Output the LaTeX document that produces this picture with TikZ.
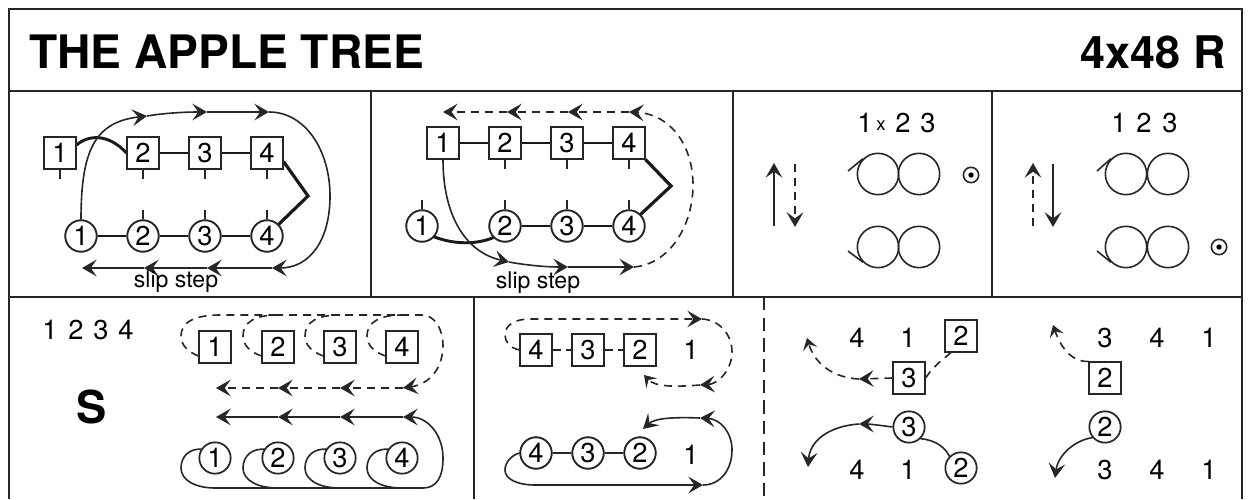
\documentclass[tikz,border=0pt]{standalone}
\usepackage{fontspec}
\setmainfont{TeX Gyre Heros}
\usetikzlibrary{arrows.meta}
\newcommand{\pxfont}[1]{\fontsize{#1}{#1}\selectfont}
\tikzset{
  frameline/.style={line width=1.4pt,draw=black!85},
  sq/.style={draw=black!85,line width=1.3pt,fill=white,rectangle,minimum size=23.5pt,inner sep=0pt,font=\pxfont{20.5}},
  circ/.style={draw=black!85,line width=1.3pt,fill=white,circle,minimum size=23.5pt,inner sep=0pt,font=\pxfont{20.5}},
  num/.style={inner sep=0pt,font=\pxfont{20.5}},
  lbl/.style={inner sep=0pt,anchor=base,font=\pxfont{17.3}},
  ring/.style={draw=black!85,line width=1.2pt,circle,minimum size=31pt,inner sep=0pt},
  thinl/.style={line width=1.2pt,draw=black!85},
  thickl/.style={line width=2.2pt,draw=black!90},
  dashl/.style={line width=1.2pt,draw=black!85,dash pattern=on 6pt off 4.5pt},
  tip/.style={-{Stealth[length=11pt,width=12.5pt,inset=4.5pt]}},
  smalltip/.style={-{Stealth[length=8.5pt,width=11pt,inset=3.5pt]}},
  dotring/.style={draw=black!85,line width=1.2pt,circle,minimum size=11.5pt,inner sep=0pt},
  dotc/.style={fill=black,circle,minimum size=4pt,inner sep=0pt},
}
\begin{document}
\begin{tikzpicture}[x=0.75pt,y=-0.75pt]
\useasboundingbox (0,0) rectangle (1251,499);
% frame
\coordinate (TL) at (9,9); \coordinate (TR) at (1242,9);
\coordinate (BL) at (9,499); \coordinate (BR) at (1242,499);
\coordinate (H1a) at (9,91); \coordinate (H1b) at (1242,91);
\coordinate (H2a) at (9,297); \coordinate (H2b) at (1242,297);
\draw[frameline] (BL) -- (TL) -- (TR) -- (BR);
\draw[frameline] (H1a) -- (H1b);
\draw[frameline] (H2a) -- (H2b);
\foreach \xx in {371,733,992} {\draw[frameline] (\xx,91) -- (\xx,297);}
\draw[frameline] (474,297) -- (474,499);
\draw[line width=1.2pt,draw=black!85,dash pattern=on 10pt off 5.5pt] (764,297) -- (764,499);
% title
\node[inner sep=0pt,anchor=base west,font=\bfseries\pxfont{34.6}] (title) at (29,69) {THE APPLE TREE};
\node[inner sep=0pt,anchor=base east,font=\bfseries\pxfont{33.7}] (form) at (1226,69) {4x48 R};

% ---------- panel 1
\foreach \n/\xx in {1/60,2/143,3/205,4/267} {
  \node[sq] (as\n) at (\xx,153) {\n};
  \draw[thinl] (as\n.south) -- ++(0,9);
}
\foreach \n/\xx in {1/81,2/143,3/205,4/267} {
  \node[circ] (ac\n) at (\xx,236) {\n};
}
\foreach \n in {2,3,4} {\draw[thinl] (ac\n.north) -- ++(0,-9);}
\draw[thickl] (as1.east) ++(0,-8) .. controls (88,135) and (108,133) .. (as2.west);
\draw[thickl] (as2) -- (as3) (as3) -- (as4) (ac1) -- (ac2) (ac2) -- (ac3) (ac3) -- (ac4);
\coordinate (acorner) at (308,196);
\draw[thickl,line width=2.4pt] (as4.south east) ++(0,-8) -- (acorner) -- (ac4.north east);
\coordinate (at1) at (147,116); \coordinate (at2) at (207,112); \coordinate (at3) at (269,112);
\coordinate (at4) at (272,268); \coordinate (at5) at (207,268); \coordinate (at6) at (144,268); \coordinate (at7) at (82,268);
\draw[thinl,tip] (ac1.north) .. controls (81,150) and (95,122) .. (at1);
\draw[thinl,tip] (at1) .. controls (165,113) and (185,112) .. (at2);
\draw[thinl,tip] (at2) -- (at3);
\draw[thinl,tip] (at3) .. controls (305,112) and (330,150) .. (330,196) .. controls (330,240) and (310,268) .. (at4);
\draw[thinl,tip] (at4) -- (at5);
\draw[thinl,tip] (at5) -- (at6);
\draw[thinl,tip] (at6) -- (at7);
\node[lbl] (aslip) at (176,287) {slip step};
\foreach \n/\xx in {1/60,2/143,3/205,4/267} {\node[sq] at (as\n) {\n};}
\foreach \n/\xx in {1/81,2/143,3/205,4/267} {\node[circ] at (ac\n) {\n};}

% ---------- panel 2
\foreach \n/\xx in {1/443,2/505,3/567,4/629} {\node[sq] (bs\n) at (\xx,143) {\n};}
\foreach \n in {2,3,4} {\draw[thinl] (bs\n.south) -- ++(0,9);}
\foreach \n/\xx in {1/422,2/505,3/567,4/629} {
  \node[circ] (bc\n) at (\xx,226) {\n};
  \draw[thinl] (bc\n.north) -- ++(0,-9);
}
\draw[thickl] (bs1) -- (bs2) (bs2) -- (bs3) (bs3) -- (bs4) (bc2) -- (bc3) (bc3) -- (bc4);
\draw[thickl] (bc1.south east) ++(0,-1) .. controls (450,243) and (472,246) .. (bc2.south west);
\coordinate (bcorner) at (671,186);
\draw[thickl,line width=2.4pt] (bs4.south east) -- (bcorner) -- (bc4.north east);
\coordinate (bt1) at (509,262); \coordinate (bt2) at (568,267); \coordinate (bt3) at (634,267);
\coordinate (bt4) at (629,112); \coordinate (bt5) at (568,112); \coordinate (bt6) at (507,112); \coordinate (bt7) at (443,112);
\draw[thinl,tip] (bs1.south) .. controls (443,215) and (465,252) .. (bt1);
\draw[thinl,tip] (bt1) .. controls (525,265) and (545,267) .. (bt2);
\draw[thinl,tip] (bt2) -- (bt3);
\draw[dashl,tip] (bt3) .. controls (670,264) and (693,225) .. (693,185) .. controls (693,145) and (670,114) .. (bt4);
\draw[dashl,tip] (bt4) -- (bt5);
\draw[dashl,tip] (bt5) -- (bt6);
\draw[dashl,tip] (bt6) -- (bt7);
\node[lbl] (bslip) at (538,288) {slip step};
\foreach \n/\xx in {1/443,2/505,3/567,4/629} {\node[sq] at (bs\n) {\n};}
\foreach \n/\xx in {1/422,2/505,3/567,4/629} {\node[circ] at (bc\n) {\n};}

% ---------- panel 3
\node[num] (c1) at (865,123) {1};
\node[num,font=\pxfont{14}] (cx) at (881,126) {x};
\node[num] (c2) at (903,123) {2};
\node[num] (c3) at (928,123) {3};
\node[ring] (cr1) at (878,174) {}; \node[ring] (cr2) at (919,174) {};
\node[ring] (cr3) at (878,247) {}; \node[ring] (cr4) at (919,247) {};
\coordinate (ct1) at (848,171); \coordinate (ct2) at (848,251);
\draw[thinl] (ct1) -- (cr1.north west);
\draw[thinl] (ct2) -- (cr3.south west);
\coordinate (cu0) at (774,226); \coordinate (cu1) at (774,163);
\coordinate (cd0) at (795,164); \coordinate (cd1) at (795,227);
\draw[thinl,tip] (cu0) -- (cu1);
\draw[dashl,tip] (cd0) -- (cd1);
\node[dotring] (cdr) at (971,175) {}; \node[dotc] at (cdr) {};

% ---------- panel 4
\node[num] (d1) at (1119,123) {1};
\node[num] (d2) at (1144,123) {2};
\node[num] (d3) at (1170,123) {3};
\node[ring] (dr1) at (1126,174) {}; \node[ring] (dr2) at (1168,174) {};
\node[ring] (dr3) at (1126,247) {}; \node[ring] (dr4) at (1168,247) {};
\coordinate (dt1) at (1097,171); \coordinate (dt2) at (1097,251);
\draw[thinl] (dt1) -- (dr1.north west);
\draw[thinl] (dt2) -- (dr3.south west);
\coordinate (du0) at (1033,226); \coordinate (du1) at (1033,163);
\coordinate (dd0) at (1053,164); \coordinate (dd1) at (1053,227);
\draw[dashl,tip] (du0) -- (du1);
\draw[thinl,tip] (dd0) -- (dd1);
\node[dotring] (ddr) at (1219,247) {}; \node[dotc] at (ddr) {};

% ---------- panel 5
\node[num] (e1) at (50,330) {1}; \node[num] (e2) at (76,330) {2};
\node[num] (e3) at (101,330) {3}; \node[num] (e4) at (126,330) {4};
\node[inner sep=0pt,font=\bfseries\pxfont{34}] (eS) at (92,407) {S};
\foreach \n/\xx in {1/215,2/278,3/340,4/402} {
  \node[sq] (es\n) at (\xx,347) {\n};
  \node[circ] (ec\n) at (\xx,458) {\n};
}
\coordinate (et4) at (403,388); \coordinate (et3) at (340,388); \coordinate (et2) at (278,388); \coordinate (et1) at (216,388);
\coordinate (eu4) at (403,417); \coordinate (eu3) at (340,417); \coordinate (eu2) at (278,417); \coordinate (eu1) at (216,417);
% dashed loops
\draw[dashl] (es1.west) ++(0,9) .. controls (188,352) and (181,345) .. (181,336) .. controls (181,322) and (195,315) .. (220,315) -- (275,315);
\draw[dashl] (es2.west) ++(0,9) .. controls (250,352) and (243,345) .. (243,336) .. controls (243,322) and (255,315) .. (278,315);
\draw[dashl] (es3.west) ++(0,9) .. controls (312,352) and (305,345) .. (305,336) .. controls (305,322) and (317,315) .. (340,315);
\draw[dashl] (es4.west) ++(0,9) .. controls (374,352) and (367,345) .. (367,336) .. controls (367,322) and (380,315) .. (402,315);
\draw[dashl,tip] (275,315) -- (422,315) .. controls (435,315) and (443,330) .. (443,345) .. controls (443,368) and (430,384) .. (et4);
\draw[dashl,tip] (et4) -- (et3);
\draw[dashl,tip] (et3) -- (et2);
\draw[dashl,tip] (et2) -- (et1);
\draw[thinl,tip] (eu4) -- (eu3);
\draw[thinl,tip] (eu3) -- (eu2);
\draw[thinl,tip] (eu2) -- (eu1);
\draw[thinl,tip] (423,488) .. controls (436,488) and (443,478) .. (443,458) .. controls (443,435) and (428,417) .. (eu4);
% solid loops
\draw[thinl] (ec1.north west) ++(-1,3) .. controls (190,448) and (181,456) .. (181,468) .. controls (181,480) and (195,488) .. (215,488);
\draw[thinl] (ec2.north west) ++(-1,3) .. controls (252,448) and (243,456) .. (243,468) .. controls (243,480) and (257,488) .. (278,488);
\draw[thinl] (ec3.north west) ++(-1,3) .. controls (314,448) and (305,456) .. (305,468) .. controls (305,480) and (319,488) .. (340,488);
\draw[thinl] (ec4.north west) ++(-1,3) .. controls (376,448) and (367,456) .. (367,468) .. controls (367,480) and (381,488) .. (402,488);
\draw[thinl] (215,488) -- (423,488);

% ---------- panel 6
\foreach \n/\xx in {4/536,3/588,2/640} {
  \node[sq] (fs\n) at (\xx,350) {\n};
  \node[circ] (fc\n) at (\xx,453) {\n};
}
\node[num] (fa) at (691,350) {1}; \node[num] (fb) at (691,455) {1};
\draw[thinl,dash pattern=on 6pt off 4pt] (fs4) -- (fs3);
\draw[thinl,dash pattern=on 6pt off 4pt] (fs3) -- (fs2);
\draw[thinl] (fc4) -- (fc3) (fc3) -- (fc2);
\foreach \n/\xx in {4/536,3/588,2/640} {\node[sq] at (\xx,350) {\n}; \node[circ] at (\xx,453) {\n};}
\coordinate (ft1) at (702,319); \coordinate (ft2) at (700,385); \coordinate (ft3) at (644,375);
\coordinate (fu1) at (703,485); \coordinate (fu2) at (700,418); \coordinate (fu3) at (643,429);
\draw[dashl,tip] (fs4.west) .. controls (510,348) and (505,342) .. (505,335) .. controls (505,325) and (515,319) .. (530,319) -- (ft1);
\draw[dashl,tip] (ft1) .. controls (720,320) and (732,335) .. (732,352) .. controls (732,370) and (718,384) .. (ft2);
\draw[dashl,smalltip] (ft2) .. controls (675,387) and (655,387) .. (ft3);
\draw[thinl,tip] (fc4.west) .. controls (512,455) and (505,462) .. (505,470) .. controls (505,479) and (517,485) .. (535,485) -- (fu1);
\draw[thinl,tip] (fu1) .. controls (720,485) and (732,470) .. (732,450) .. controls (732,432) and (720,419) .. (fu2);
\draw[thinl,tip] (fu2) .. controls (675,417) and (655,418) .. (fu3);

% ---------- panel 7
\node[num] (g4) at (857,338) {4}; \node[num] (g1) at (908,338) {1};
\node[sq] (gs2) at (961,336) {2}; \node[sq] (gs3) at (909,378) {3};
\node[circ] (gc3) at (909,427) {3}; \node[circ] (gc2) at (961,468) {2};
\node[num] (g5) at (857,470) {4}; \node[num] (g6) at (908,470) {1};
\coordinate (gt1) at (859,379); \coordinate (gt2) at (807,338);
\coordinate (gu1) at (859,424); \coordinate (gu2) at (808,467);
\draw[dashl] (gs2.south) ++(-10,0) .. controls (945,358) and (935,364) .. (gs3.east);
\draw[dashl,tip] (gs3.west) -- (gt1);
\draw[dashl,smalltip] (gt1) .. controls (835,378) and (815,365) .. (gt2);
\draw[thinl] (gc2.north west) .. controls (945,447) and (935,440) .. (gc3.south east);
\draw[thinl,tip] (gc3.west) .. controls (885,426) and (870,424) .. (gu1);
\draw[thinl,tip] (gu1) .. controls (830,426) and (810,440) .. (gu2);

% ---------- panel 8
\node[num] (h3) at (1105,338) {3}; \node[num] (h4) at (1157,338) {4}; \node[num] (h1) at (1209,338) {1};
\node[sq] (hs2) at (1105,378) {2}; \node[circ] (hc2) at (1105,427) {2};
\node[num] (h5) at (1105,470) {3}; \node[num] (h6) at (1157,470) {4}; \node[num] (h7) at (1209,470) {1};
\coordinate (ht1) at (1053,325); \coordinate (hu1) at (1055,478);
\draw[dashl,smalltip] (hs2.north west) .. controls (1070,362) and (1060,345) .. (ht1);
\draw[thinl,tip] (hc2.south west) ++(-1,-1) .. controls (1075,440) and (1058,455) .. (hu1);
\end{tikzpicture}
\end{document}
